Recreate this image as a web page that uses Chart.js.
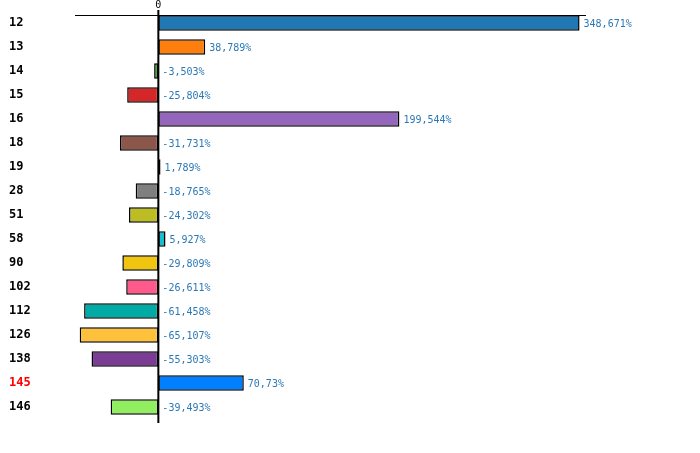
<!DOCTYPE html>
<html>
<head>
<meta charset="utf-8">
<script src="https://cdn.jsdelivr.net/npm/chart.js@4"></script>
<style>
  html, body { margin: 0; padding: 0; background: #fff; }
  #wrap { width: 700px; height: 453px; }
</style>
</head>
<body>
<div id="wrap"><canvas id="bar-chart"></canvas></div>
<script>
// categories and values (percent)
var categories = ['12', '13', '14', '15', '16', '18', '19', '28', '51', '58', '90', '102', '112', '126', '138', '145', '146'];
var values = [348.671, 38.789, -3.503, -25.804, 199.544, -31.731, 1.789, -18.765, -24.302, 5.927, -29.809, -26.611, -61.458, -65.107, -55.303, 70.73, -39.493];
var barColors = ['#1f77b4', '#ff7f0e', '#2ca02c', '#d62728', '#9467bd', '#8c564b', '#e377c2', '#7f7f7f', '#bcbd22', '#17becf',
                 '#f1c40f', '#ff5a8c', '#00aaa5', '#ffc13b', '#7b3c96', '#0080ff', '#90ee60'];
var highlight = '145';
var xTicks = [0];

function fmt(v) {
    return String(v).replace('.', ',') + '%';
}

// zero line, top rule and value labels
var extras = {
    id: 'extras',
    afterDatasetsDraw: function (chart) {
        var ctx = chart.ctx;
        var area = chart.chartArea;
        var x0 = chart.scales.x.getPixelForValue(0);
        ctx.save();
        ctx.strokeStyle = '#000';
        ctx.lineWidth = 1;
        ctx.beginPath();
        ctx.moveTo(area.left, area.top + 4.5);
        ctx.lineTo(area.right, area.top + 4.5);
        ctx.stroke();
        ctx.lineWidth = 2;
        ctx.beginPath();
        ctx.moveTo(x0, area.top - 1);
        ctx.lineTo(x0, area.bottom + 4);
        ctx.stroke();

        ctx.font = '10px "DejaVu Sans Mono"';
        ctx.fillStyle = '#2a78b5';
        ctx.textAlign = 'left';
        ctx.textBaseline = 'middle';
        chart.getDatasetMeta(0).data.forEach(function (bar, i) {
            var x = Math.max(bar.x, x0) + 4;
            ctx.fillText(fmt(values[i]), x, bar.y + 1);
        });
        ctx.restore();
    }
};

var ctx2 = document.getElementById('bar-chart').getContext('2d');
new Chart(ctx2, {
    type: 'bar',
    data: {
        labels: categories,
        datasets: [{
            data: values,
            backgroundColor: barColors,
            borderColor: '#000',
            borderWidth: 1.5,
            borderSkipped: false,
            categoryPercentage: 1,
            barPercentage: 0.65
        }]
    },
    options: {
        indexAxis: 'y',
        responsive: true,
        maintainAspectRatio: false,
        animation: false,
        layout: { padding: { left: 9, right: 114, top: 0, bottom: 34 } },
        plugins: {
            legend: { display: false },
            tooltip: { enabled: false }
        },
        scales: {
            x: {
                position: 'top',
                min: -69,
                max: 354,
                afterBuildTicks: function (scale) {
                    scale.ticks = xTicks.map(function (v) { return { value: v }; });
                },
                afterFit: function (scale) { scale.height = 11; },
                grid: { display: false, drawTicks: false },
                border: { display: false },
                ticks: {
                    padding: 0,
                    color: '#000',
                    font: { family: 'DejaVu Sans Mono', size: 10, lineHeight: 1.1 },
                    maxRotation: 0
                }
            },
            y: {
                afterFit: function (scale) { scale.width = 66; },
                grid: { display: false },
                border: { display: false },
                ticks: {
                    crossAlign: 'far',
                    padding: 0,
                    color: function (c) {
                        return categories[c.index] === highlight ? '#ff0000' : '#000';
                    },
                    font: { family: 'DejaVu Sans Mono', size: 12, weight: 'bold' }
                }
            }
        }
    },
    plugins: [extras]
});
</script>
</body>
</html>
